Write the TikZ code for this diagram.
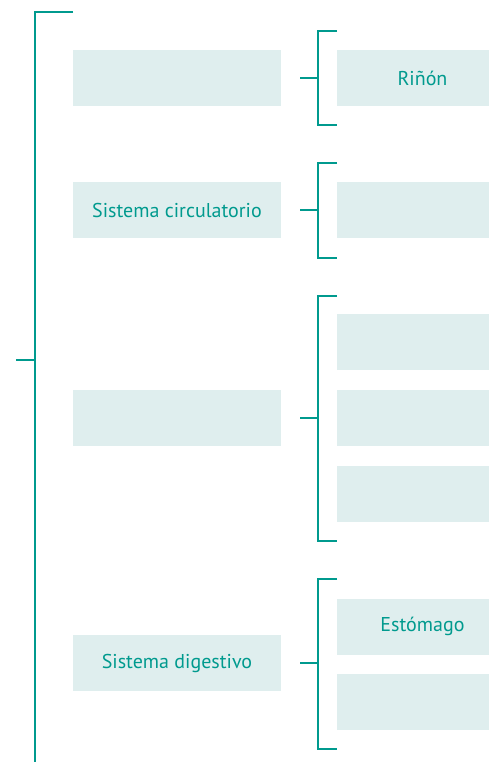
\documentclass[tikz,border=0pt]{standalone}
\usepackage{fontspec}
\setmainfont{PT Sans}
\usetikzlibrary{positioning, calc}
\definecolor{bracketteal}{HTML}{009A8E}
\definecolor{boxfill}{HTML}{DFEEEE}

\begin{document}
\begin{tikzpicture}[x=1pt, y=-1pt,
    box/.style={fill=boxfill, text=bracketteal, minimum height=56pt, inner sep=0pt,
        font=\fontsize{20}{24}\selectfont},
    lbox/.style={box, minimum width=208pt},
    rbox/.style={box, minimum width=171pt},
    brk/.style={draw=bracketteal, line width=2.4pt}]
    \useasboundingbox (0,0) rectangle (488,762);

    % systems
    \node[lbox] (excretor) at (177,78) {};
    \node[lbox] (circulatorio) at (177,210) {Sistema circulatorio};
    \node[lbox] (tercero) at (177,418) {};
    \node[lbox] (digestivo) at (177,663) {Sistema digestivo};

    % organs (boxes run past the right edge)
    \node[rbox] (rinon) at (422.5,78) {Riñón};
    \node[rbox] (corazon) at (422.5,210) {};
    \node[rbox] (orgA) at (422.5,342) {};
    \node[rbox] (orgB) at (422.5,418) {};
    \node[rbox] (orgC) at (422.5,494) {};
    \node[rbox] (estomago) at (422.5,626.5) {Estómago};
    \node[rbox] (orgD) at (422.5,701.5) {};

    % main bracket
    \coordinate (mtop) at (73,12);
    \coordinate (mmid) at (35,360);
    \draw[brk] (mtop) -- (35,12) -- (35,763);
    \draw[brk] (16,360) -- (mmid);

    % organ brackets
    \draw[brk] (337,31) -- (318,31) -- (318,125) -- (337,125);
    \draw[brk] ($(excretor.east)+(19,0)$) -- (318,78);
    \draw[brk] (337,163) -- (318,163) -- (318,258) -- (337,258);
    \draw[brk] ($(circulatorio.east)+(19,0)$) -- (318,210);
    \draw[brk] (337,296) -- (318,296) -- (318,541) -- (337,541);
    \draw[brk] ($(tercero.east)+(19,0)$) -- (318,418);
    \draw[brk] (337,579) -- (318,579) -- (318,749) -- (337,749);
    \draw[brk] ($(digestivo.east)+(19,0)$) -- (318,663);
\end{tikzpicture}
\end{document}
